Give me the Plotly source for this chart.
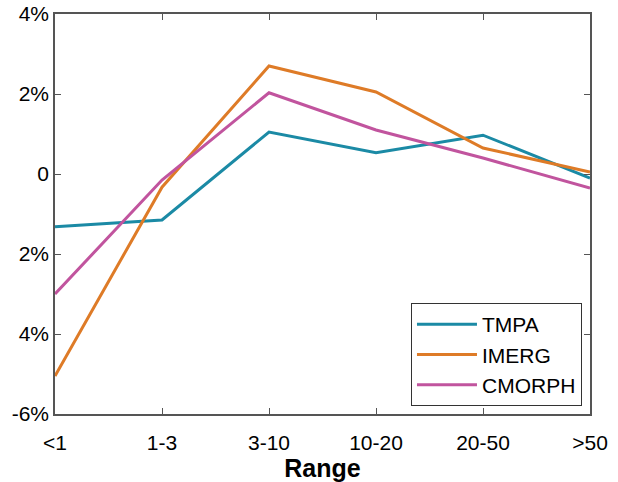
import plotly.graph_objects as go

categories = ["<1", "1-3", "3-10", "10-20", "20-50", ">50"]
tmpa = [-1.32, -1.15, 1.05, 0.53, 0.97, -0.10]
imerg = [-5.05, -0.33, 2.70, 2.05, 0.65, 0.05]
cmorph = [-3.00, -0.15, 2.03, 1.10, 0.40, -0.35]
y_tickvals = [4, 2, 0, -2, -4, -6]
y_ticktext = ["4%", "2%", "0", "2%", "4%", "-6%"]

series = [("TMPA", tmpa, "#1b8aa5"), ("IMERG", imerg, "#de7b27"), ("CMORPH", cmorph, "#c1549e")]

fig = go.Figure()
x = list(range(len(categories)))
for name, vals, col in series:
    fig.add_trace(go.Scatter(x=x, y=vals, mode="lines", name=name,
                             line=dict(color=col, width=3)))

font = dict(family="Liberation Sans, Arial, sans-serif", color="black", size=21)
fig.update_layout(
    width=618, height=482,
    margin=dict(l=55, r=28, t=14, b=68, autoexpand=False),
    paper_bgcolor="white", plot_bgcolor="white",
    font=font,
    showlegend=True,
    legend=dict(x=0.985, y=0.02, xanchor="right", yanchor="bottom",
                bordercolor="#333333", borderwidth=1, bgcolor="white",
                font=dict(size=21), itemwidth=60, tracegroupgap=0),
)
fig.update_xaxes(range=[0, 5], tickmode="array", tickvals=x, ticktext=categories,
                 showgrid=False, zeroline=False, showline=True, linecolor="#555555",
                 linewidth=1.5, mirror="ticks", ticks="inside", ticklen=6,
                 tickcolor="#555555", automargin=False, ticklabelstandoff=9,
                 title=dict(text="<b>Range</b>", font=dict(size=25), standoff=3))
fig.update_yaxes(range=[-6, 4], tickmode="array", tickvals=y_tickvals, ticktext=y_ticktext,
                 showgrid=False, zeroline=False, showline=True, linecolor="#555555",
                 linewidth=1.5, mirror="ticks", ticks="inside", ticklen=6,
                 tickcolor="#555555", automargin=False)

fig.write_html("out.html", config={"displayModeBar": False},
               post_script="document.body.style.margin='0';")
